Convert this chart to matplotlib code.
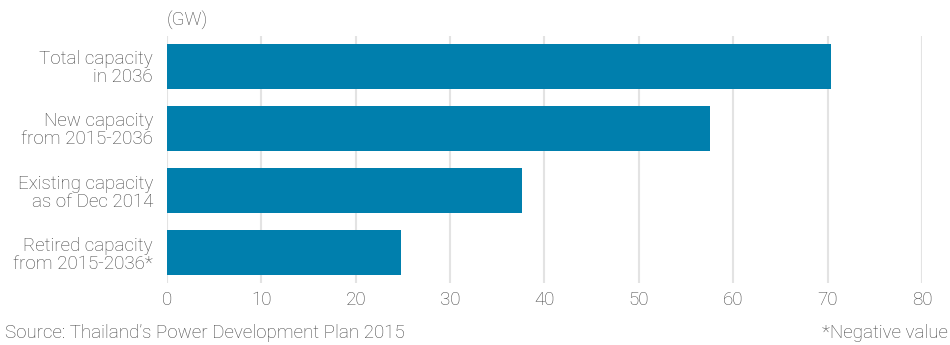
import matplotlib.pyplot as plt

categories = ["Total capacity\nin 2036", "New capacity\nfrom 2015-2036",
              "Existing capacity\nas of Dec 2014", "Retired capacity\nfrom 2015-2036*"]
values = [70.4, 57.5, 37.6, 24.8]
xticks = [0, 10, 20, 30, 40, 50, 60, 70, 80]

plt.rcParams['font.family'] = ['Roboto', 'DejaVu Sans']
txt = "#444444"
fs = 13.5

fig = plt.figure(figsize=(9.5, 3.45), dpi=100)
ax = fig.add_axes([0.1758, 0.1797, 0.7947, 0.716])

ax.barh(range(len(values)), values, height=0.73, color="#007fad", zorder=2)
ax.set_xlim(0, 80)
ax.set_ylim(3.49, -0.49)
ax.set_xticks(xticks)
ax.set_yticks(range(len(categories)))
ax.set_yticklabels(categories, fontsize=fs, color=txt, fontweight="light", linespacing=1.0)
for lab in ax.get_xticklabels():
    lab.set_fontsize(fs)
    lab.set_color(txt)
    lab.set_fontweight("light")
ax.tick_params(length=0)
ax.tick_params(axis="y", pad=10)
ax.tick_params(axis="x", pad=6)
ax.grid(axis="x", color="#e3e3e3", linewidth=1.5, zorder=0)
for s in ax.spines.values():
    s.set_visible(False)

fig.text(0.1758, 0.94, "(GW)", fontsize=fs, color=txt, fontweight="light", ha="left", va="center")
fig.text(0.005, 0.035, "Source: Thailand\u2019s Power Development Plan 2015", fontsize=fs,
         color=txt, fontweight="light", ha="left", va="center")
fig.text(0.998, 0.035, "*Negative value", fontsize=fs, color=txt, fontweight="light",
         ha="right", va="center")

fig.savefig("out.png", dpi=100)
